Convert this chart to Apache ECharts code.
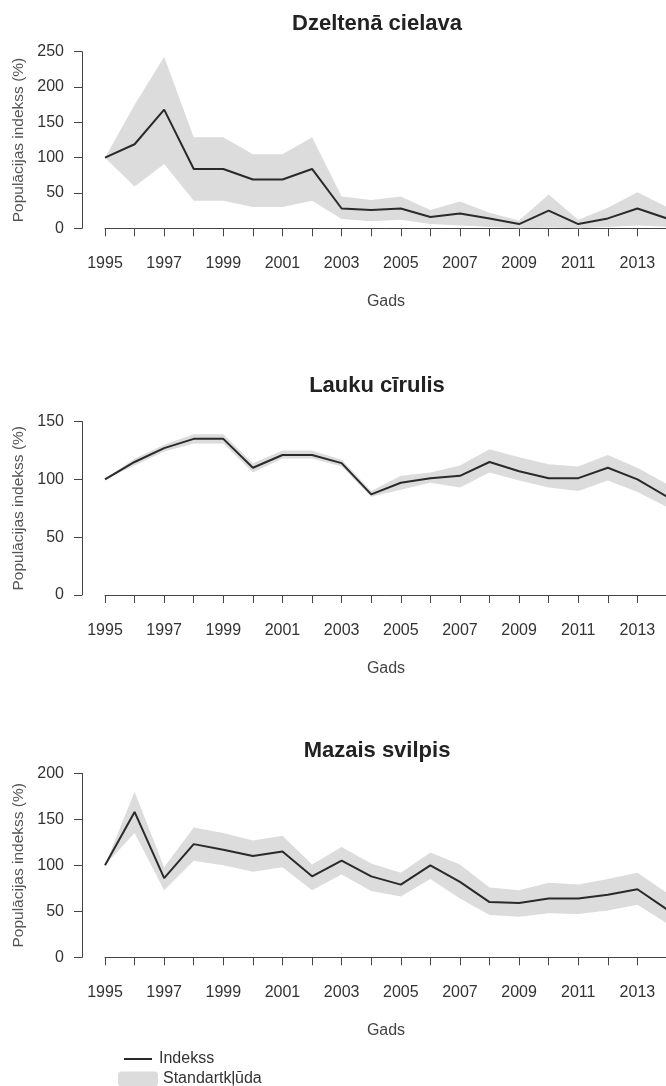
<!DOCTYPE html>
<html>
<head>
<meta charset="utf-8">
<title>Populācijas indekss</title>
<script src="https://cdn.jsdelivr.net/npm/echarts@6/dist/echarts.min.js"></script>
<style>
    html, body { margin: 0; padding: 0; background: #fff; }
    #main { width: 666px; height: 1086px; }
</style>
</head>
<body>
<div id="main"></div>
<script>
// 1.数据
let years = [1995, 1996, 1997, 1998, 1999, 2000, 2001, 2002, 2003, 2004,
    2005, 2006, 2007, 2008, 2009, 2010, 2011, 2012, 2013, 2014]

// 1.1 Dzeltenā cielava
let cielavaIndex = [100, 119, 168, 84, 84, 69, 69, 84, 28, 26, 28, 16, 21, 14, 6, 25, 6, 14, 28, 14]
let cielavaUpper = [100, 175, 243, 129, 129, 105, 105, 129, 45, 40, 45, 26, 38, 22, 11, 48, 12, 29, 51, 30]
let cielavaLower = [100, 59, 91, 39, 39, 30, 30, 39, 13, 10, 12, 6, 4, 2, 0, 1, 0, 2, 4, 2]

// 1.2 Lauku cīrulis
let cirulisIndex = [100, 115, 127, 135, 135, 110, 121, 121, 114, 87, 97, 101, 103, 115, 107, 101, 101, 110, 100, 85]
let cirulisUpper = [100, 118, 130, 139, 139, 114, 125, 125, 117, 90, 103, 106, 112, 126, 119, 113, 111, 121, 110, 96]
let cirulisLower = [100, 112, 124, 131, 131, 106, 118, 118, 111, 85, 91, 97, 93, 106, 99, 93, 90, 99, 89, 76]

// 1.3 Mazais svilpis
let svilpisIndex = [100, 158, 86, 123, 117, 110, 115, 88, 105, 88, 79, 100, 82, 60, 59, 64, 64, 68, 74, 52]
let svilpisUpper = [100, 180, 98, 141, 135, 127, 132, 101, 120, 102, 92, 114, 101, 76, 73, 81, 79, 85, 92, 70]
let svilpisLower = [100, 135, 73, 105, 100, 93, 98, 73, 90, 72, 66, 85, 64, 46, 44, 48, 47, 51, 57, 37]

// 1.4 标题和坐标轴文字
let titles = ['Dzeltenā cielava', 'Lauku cīrulis', 'Mazais svilpis']
let yMax = [250, 150, 200]
let xName = 'Gads'
let yName = 'Populācijas indekss (%)'
let legendNames = ['Indekss', 'Standartkļūda']

// 2.版面
let font = "'Liberation Sans', Arial, sans-serif"
let axisColor = '#444'
let bandColor = '#dcdcdd'
let lineColor = '#2a2a2a'
let panels = [
    { top: 51.7, height: 176.6, titleY: 8, offset: 8 },
    { top: 421.5, height: 173.5, titleY: 370, offset: 9 },
    { top: 773.3, height: 184, titleY: 735, offset: 8 }
]
let allData = [
    [cielavaIndex, cielavaLower, cielavaUpper],
    [cirulisIndex, cirulisLower, cirulisUpper],
    [svilpisIndex, svilpisLower, svilpisUpper]
]

let grid = [], xAxis = [], yAxis = [], series = [], title = []

for (let i = 0; i < panels.length; i++) {
    let p = panels[i]
    let [idx, lower, upper] = allData[i]

    title.push({
        text: titles[i],
        left: 372,
        top: p.titleY,
        textAlign: 'center',
        textStyle: { fontFamily: font, fontSize: 22, fontWeight: 'bold', color: '#222' }
    })

    // v6 默认会把标签挤进容器，这里关掉
    grid.push({ left: 105, width: 562, top: p.top, height: p.height, outerBoundsMode: 'none', containLabel: false })

    xAxis.push({
        type: 'value',
        gridIndex: i,
        min: 1995,
        max: 2014,
        interval: 1,
        offset: p.offset,
        name: xName,
        nameLocation: 'middle',
        nameGap: 57,
        nameTextStyle: { fontFamily: font, fontSize: 16, color: '#444' },
        axisLine: { show: true, lineStyle: { color: axisColor, width: 1 } },
        axisTick: { show: true, length: 8, lineStyle: { color: axisColor } },
        axisLabel: {
            margin: 19,
            fontFamily: font,
            fontSize: 16,
            color: '#333',
            formatter: function (v) { return v % 2 === 1 ? String(v) : '' }
        },
        splitLine: { show: false }
    })

    yAxis.push({
        type: 'value',
        gridIndex: i,
        min: 0,
        max: yMax[i],
        interval: 50,
        offset: 23,
        name: yName,
        nameLocation: 'middle',
        nameRotate: 90,
        nameGap: 53,
        nameTextStyle: { fontFamily: font, fontSize: 15.5, color: '#555' },
        axisLine: { show: true, lineStyle: { color: axisColor, width: 1 } },
        axisTick: { show: true, length: 8, lineStyle: { color: axisColor } },
        axisLabel: { margin: 18, fontFamily: font, fontSize: 16, color: '#333' },
        splitLine: { show: false }
    })

    // 2.1 标准误差带：上界 + 反向下界 围成多边形
    series.push({
        name: legendNames[1],
        type: 'custom',
        xAxisIndex: i,
        yAxisIndex: i,
        itemStyle: { color: bandColor },
        encode: { x: 0, y: [1, 2] },
        data: years.map((y, k) => [y, lower[k], upper[k]]),
        renderItem: function (params, api) {
            if (params.dataIndex !== 0) return
            let pts = []
            for (let k = 0; k < years.length; k++) pts.push(api.coord([years[k], upper[k]]))
            for (let k = years.length - 1; k >= 0; k--) pts.push(api.coord([years[k], lower[k]]))
            return { type: 'polygon', shape: { points: pts }, style: { fill: bandColor } }
        }
    })
    // 2.2 指数折线
    series.push({
        name: legendNames[0],
        type: 'line',
        xAxisIndex: i,
        yAxisIndex: i,
        symbol: 'none',
        itemStyle: { color: lineColor },
        lineStyle: { color: lineColor, width: 2 },
        data: years.map((y, k) => [y, idx[k]])
    })
}

// 3.图例
let legend = [
    {
        data: [{ name: legendNames[0], icon: 'rect' }],
        left: 119,
        top: 1046,
        itemWidth: 28,
        itemHeight: 2,
        textStyle: { fontFamily: font, fontSize: 16, color: '#333', padding: [0, 0, 0, 2] }
    },
    {
        data: [{ name: legendNames[1], icon: 'roundRect' }],
        left: 113,
        top: 1066,
        itemWidth: 40,
        itemHeight: 15,
        textStyle: { fontFamily: font, fontSize: 16, color: '#333' }
    }
]

let myChart = echarts.init(document.getElementById('main'), null, { renderer: 'canvas' })
myChart.setOption({
    animation: false,
    title: title,
    legend: legend,
    grid: grid,
    xAxis: xAxis,
    yAxis: yAxis,
    series: series
})
</script>
</body>
</html>
